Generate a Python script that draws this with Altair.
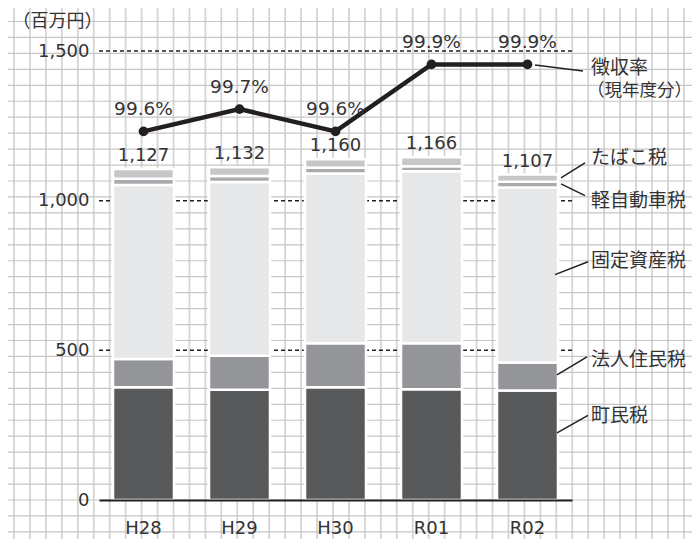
import altair as alt
import pandas as pd

# ---------------- data ----------------
years = ["H28", "H29", "H30", "R01", "R02"]
taxes = ["町民税", "法人住民税", "固定資産税", "軽自動車税", "たばこ税"]
choumin = [377, 368, 377, 370, 366]
houjin = [94, 114, 147, 154, 93]
kotei = [581, 580, 567, 574, 585]
kei = [21, 20, 19, 17, 19]
tabako = [33, 30, 28, 30, 24]
totals = [1127, 1132, 1160, 1166, 1107]
rates = [99.6, 99.7, 99.6, 99.9, 99.9]
y_ticks = [0, 500, 1000, 1500]
dash_levels = [500, 1000, 1500]

tax_colors = ["#58595b", "#939598", "#e6e7e8", "#a9abae", "#c6c7c9"]
INK = "#231f20"
TXT = "#333333"
NUM_FONT = "DejaVu Sans"
JP_FONT = "Noto Sans CJK JP"

W, H = 473, 449
PAD = {"left": 91, "top": 43, "right": 120, "bottom": 39}

series = [choumin, houjin, kotei, kei, tabako]
bar_rows = []
for ti, (tax, vals) in enumerate(zip(taxes, series)):
    for yr, v in zip(years, vals):
        bar_rows.append({"year": yr, "tax": tax, "value": v, "ord": ti})
bars_df = pd.DataFrame(bar_rows)

tot_df = pd.DataFrame({
    "year": years,
    "height": [sum(s[i] for s in series) for i in range(len(years))],
    "total": totals,
})
rate_df = pd.DataFrame({"year": years, "rate": rates,
                        "label": [f"{r:.1f}%" for r in rates]})

# annotation labels (right side)
ann_text = pd.DataFrame({
    "label": ["徴収率", "たばこ税", "軽自動車税", "固定資産税", "法人住民税", "町民税"],
    "yv": [1444, 1144, 998, 797, 468, 279],
    "xp": [492, 492, 492, 492, 492, 492],
})
ann_sub = pd.DataFrame({"label": ["（現年度分）"], "yv": [1366], "xp": [488]})
ann_lines = pd.DataFrame({
    "x1": [436, 462, 462, 456, 458, 458],
    "x2": [484, 486, 486, 489, 488, 489],
    "y1": [1453, 1076, 1056, 753, 418, 224],
    "y2": [1433, 1126, 1017, 796, 478, 283],
})

# graph-paper background (decoration)
grid_v = pd.DataFrame({"px": [-85 + 15.95 * k for k in range(0, 44)]})
grid_h = pd.DataFrame({"py": [H - 15.95 * k for k in range(-3, 32)]})

yscale = alt.Scale(domain=[0, 1500], nice=False, zero=True)
rscale = alt.Scale(domain=[97.95, 99.96], nice=False, zero=False)
yaxis = alt.Axis(values=y_ticks, format=",.0f", grid=False, domain=False,
                 ticks=False, labelFont=NUM_FONT, labelFontSize=18,
                 labelColor=TXT, labelPadding=10, zindex=1,
                 title="（百万円）", titleAngle=0, titleAlign="left",
                 titleBaseline="middle", titleX=-87, titleY=-30,
                 titleFont=JP_FONT, titleFontSize=18,
                 titleFontWeight="normal", titleColor=TXT)
xenc = alt.X("year:N", sort=years,
             scale=alt.Scale(paddingInner=0.365, paddingOuter=0.146),
             axis=alt.Axis(title=None, labelAngle=0, ticks=False, grid=False,
                           domainColor=INK, domainWidth=2, labelFont=NUM_FONT,
                           labelFontSize=18, labelColor=TXT, labelPadding=19,
                           zindex=1))

gv = alt.Chart(grid_v).mark_rule(color="#d4d4d4", strokeWidth=1.8).encode(
    x=alt.X("px:Q", scale=None, axis=None),
    y=alt.value(-PAD["top"]), y2=alt.value(H + PAD["bottom"]))
gh = alt.Chart(grid_h).mark_rule(color="#c6c6c6", strokeWidth=1.2).encode(
    y=alt.Y("py:Q", scale=None, axis=None),
    x=alt.value(-PAD["left"]), x2=alt.value(W + PAD["right"]))

dashes = alt.Chart(pd.DataFrame({"v": dash_levels})).mark_rule(
    color=INK, strokeWidth=1.5, strokeDash=[4, 3]).encode(
    y=alt.Y("v:Q", scale=yscale, axis=yaxis),
    x=alt.value(0), x2=alt.value(W))

bars = alt.Chart(bars_df).mark_bar(stroke="white", strokeWidth=2.5).encode(
    x=xenc,
    y=alt.Y("value:Q", stack="zero", scale=yscale, axis=yaxis),
    color=alt.Color("tax:N", scale=alt.Scale(domain=taxes, range=tax_colors),
                    legend=None),
    order=alt.Order("ord:Q"),
)

tot_text = alt.Chart(tot_df).mark_text(
    font=NUM_FONT, fontSize=18, color=TXT, dy=-13, baseline="middle").encode(
    x=alt.X("year:N", sort=years),
    y=alt.Y("height:Q", scale=yscale, axis=yaxis),
    text=alt.Text("total:Q", format=","))

lead = alt.Chart(ann_lines).mark_rule(color=INK, strokeWidth=1.5).encode(
    x=alt.X("x1:Q", scale=None), x2="x2:Q",
    y=alt.Y("y1:Q", scale=yscale, axis=yaxis), y2="y2:Q")

ann = alt.Chart(ann_text).mark_text(
    font=JP_FONT, fontSize=19, color=TXT, align="left", baseline="middle").encode(
    x=alt.X("xp:Q", scale=None),
    y=alt.Y("yv:Q", scale=yscale, axis=yaxis),
    text="label:N")
ann2 = alt.Chart(ann_sub).mark_text(
    font=JP_FONT, fontSize=17.5, color=TXT, align="left", baseline="middle").encode(
    x=alt.X("xp:Q", scale=None),
    y=alt.Y("yv:Q", scale=yscale, axis=yaxis),
    text="label:N")

base = alt.layer(gv, gh, dashes, bars, tot_text, lead, ann, ann2)

line = alt.Chart(rate_df).mark_line(color=INK, strokeWidth=4.5).encode(
    x=alt.X("year:N", sort=years),
    y=alt.Y("rate:Q", scale=rscale, axis=None))
pts = alt.Chart(rate_df).mark_point(filled=True, color=INK, size=95, opacity=1).encode(
    x=alt.X("year:N", sort=years),
    y=alt.Y("rate:Q", scale=rscale, axis=None))
rlab = alt.Chart(rate_df).mark_text(
    font=NUM_FONT, fontSize=18.5, color=TXT, dy=-22, baseline="middle").encode(
    x=alt.X("year:N", sort=years),
    y=alt.Y("rate:Q", scale=rscale, axis=None),
    text="label:N")
rate_layer = alt.layer(line, pts, rlab)

chart = alt.layer(base, rate_layer).resolve_scale(y="independent").properties(
    width=W, height=H, padding=PAD,
    autosize=alt.AutoSizeParams(type="none"),
    background="white",
).configure_view(stroke=None)

chart.save("out.html", embed_options={"renderer": "svg", "actions": False})
